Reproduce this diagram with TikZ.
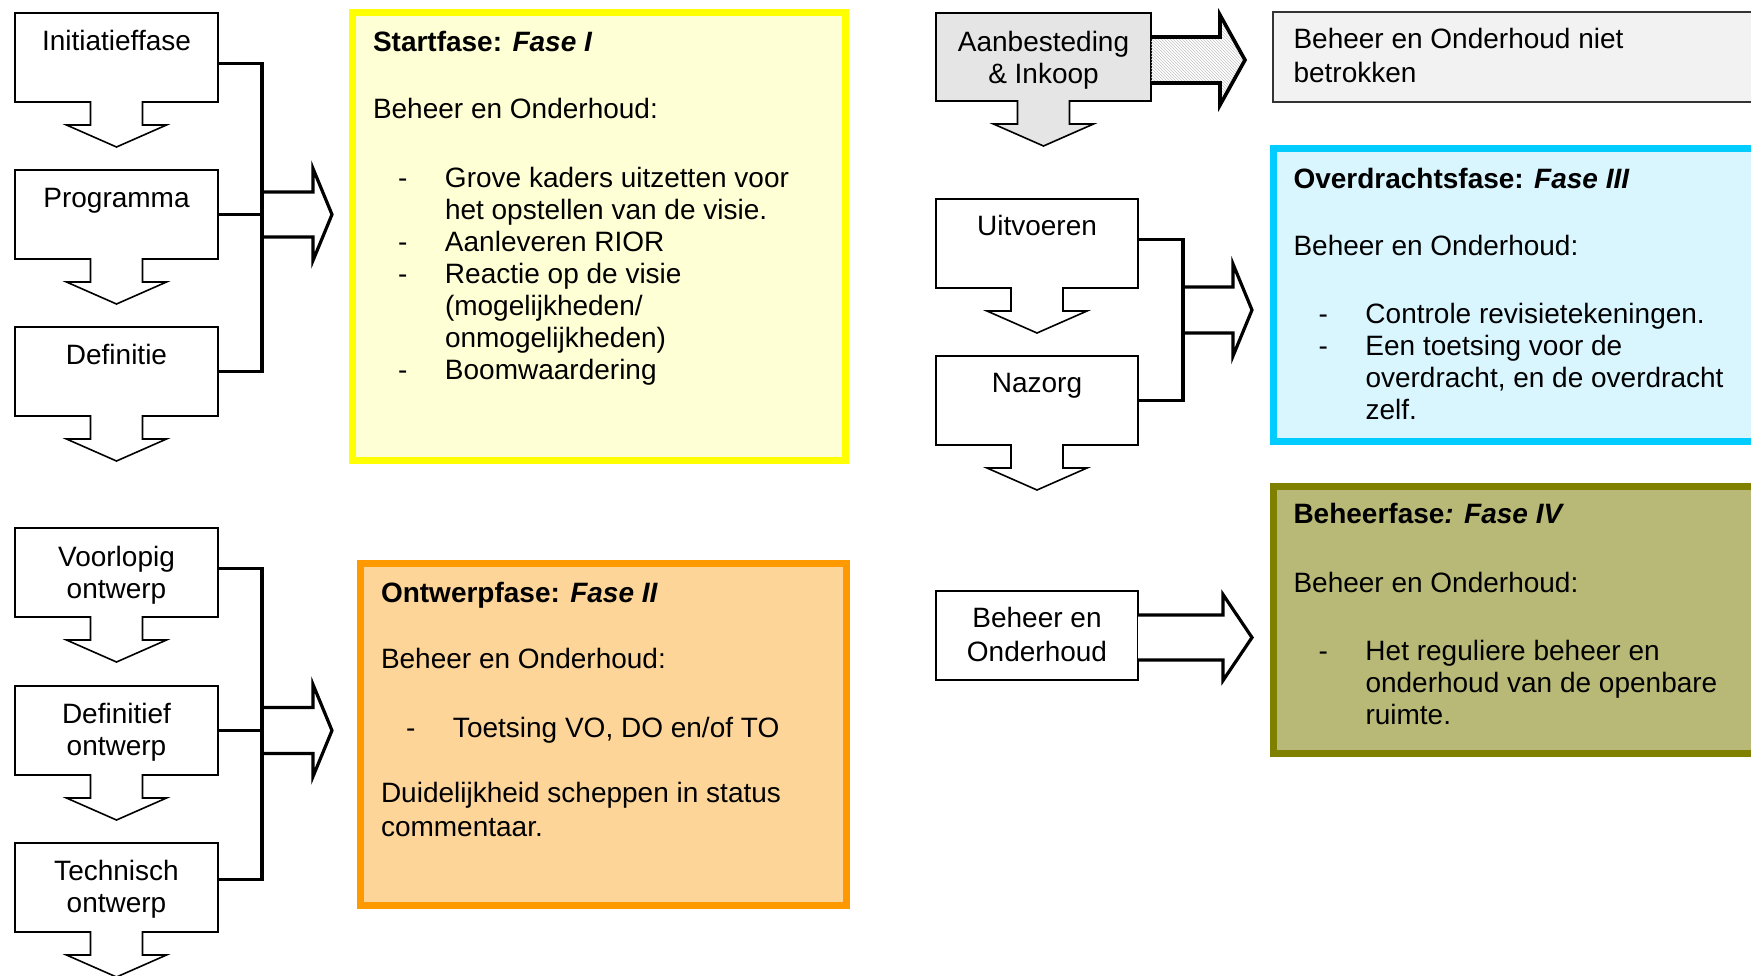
\documentclass[tikz,border=0pt]{standalone}
\usepackage{fontspec}
\setmainfont{Liberation Sans}
\usetikzlibrary{patterns}
\definecolor{yB}{HTML}{FFFF00}\definecolor{yF}{HTML}{FFFFD5}
\definecolor{oB}{HTML}{FF9900}\definecolor{oF}{HTML}{FDD598}
\definecolor{cB}{HTML}{00CCFF}\definecolor{cF}{HTML}{D9F6FF}
\definecolor{olB}{HTML}{808000}\definecolor{olF}{HTML}{B9B977}
\newcommand\bitem[1]{\hspace*{25pt}\makebox[47pt][l]{-}#1}
\newcommand\bcont[1]{\hspace*{72pt}#1}
\newcommand\dcallout[2]{%
  \draw[cbox, fill=#2] (#1.north west) -- (#1.north east) -- (#1.south east)
   -- ([xshift=26pt]#1.south) -- ([xshift=26pt,yshift=-23pt]#1.south)
   -- ([xshift=50pt,yshift=-23pt]#1.south) -- ([yshift=-45pt]#1.south)
   -- ([xshift=-50pt,yshift=-23pt]#1.south) -- ([xshift=-26pt,yshift=-23pt]#1.south)
   -- ([xshift=-26pt]#1.south) -- (#1.south west) -- cycle;}
% #1 style, #2 start, #3 shaft length, #4 head length, #5 shaft half width, #6 head half width
\newcommand\fatarrow[6]{%
  \draw[#1] (#2) ++(0,-#5) -- ++(#3,0) -- ++(0,#5-#6) -- ++(#4,#6)
   -- ++(-#4,#6) -- ++(0,#5-#6) -- ++(-#3,0);}
\begin{document}
\begin{tikzpicture}[x=1pt,y=-1pt,
  every node/.style={inner sep=0pt, outer sep=0pt},
  txt/.style={font=\fontsize{28}{32}\selectfont, align=center, anchor=north},
  ptxt/.style={font=\fontsize{28}{32}\selectfont, align=left, anchor=north west},
  cbox/.style={draw=black, line width=1.6pt},
  frame/.style={minimum height=89pt, anchor=north west},
  brk/.style={draw=black, line width=3.2pt},
  bigarrow/.style={draw=black, line width=3.2pt, fill=white, line join=miter},
  hatcharrow/.style={draw=black, line width=3.6pt, line join=miter,
    pattern=north west lines, pattern color=gray!45},
  phase/.style={line width=7pt, anchor=north west},
]
\clip (0,0) rectangle (1751,975);
\fill[white] (0,0) rectangle (1751,975);

% ---------- left column, top group ----------
\node[frame, minimum width=203pt] (init) at (15,13) {};
\dcallout{init}{white}
\node[txt] (init-t) at ([yshift=-14.6pt]init.north) {\strut Initiatieffase};
\node[frame, minimum width=203pt] (prog) at (15,170) {};
\dcallout{prog}{white}
\node[txt] (prog-t) at ([yshift=-14.6pt]prog.north) {\strut Programma};
\node[frame, minimum width=203pt] (def) at (15,327) {};
\dcallout{def}{white}
\node[txt] (def-t) at ([yshift=-14.6pt]def.north) {\strut Definitie};

\coordinate (b1) at (262,0);
\fatarrow{bigarrow}{b1 |- prog.east}{51}{19}{22.5}{46}
\draw[brk] ([yshift=-6pt]init.east) -| (b1 |- def.east) -- (def.east);
\draw[brk] (prog.east) -- (prog.east -| b1);

% ---------- left column, bottom group ----------
\node[frame, minimum width=203pt] (vo) at (15,528) {};
\dcallout{vo}{white}
\node[txt] (vo-t) at ([yshift=-15.6pt]vo.north) {\strut Voorlopig\\ontwerp};
\node[frame, minimum width=203pt] (do) at (15,686) {};
\dcallout{do}{white}
\node[txt] (do-t) at ([yshift=-14.6pt]do.north) {\strut Definitief\\ontwerp};
\node[frame, minimum width=203pt] (to) at (15,843) {};
\dcallout{to}{white}
\node[txt] (to-t) at ([yshift=-14.6pt]to.north) {\strut Technisch\\ontwerp};

\coordinate (b2) at (262,0);
\fatarrow{bigarrow}{b2 |- do.east}{51}{19}{23}{46}
\draw[brk] ([yshift=4pt]vo.east) -| ([yshift=8pt]b2 |- to.east) -- ([yshift=8pt]to.east);
\draw[brk] (do.east) -- (do.east -| b2);

% ---------- phase I ----------
\node[phase, draw=yB, fill=yF, minimum width=493pt, minimum height=448pt] (f1) at (352.5,12.5) {};
\node[ptxt] (f1-t) at (373,28.6) {\strut\textbf{Startfase: \textit{Fase I}}\\[35pt]
Beheer en Onderhoud:\\[37pt]
\bitem{Grove kaders uitzetten voor}\\
\bcont{het opstellen van de visie.}\\
\bitem{Aanleveren RIOR}\\
\bitem{Reactie op de visie}\\
\bcont{(mogelijkheden/}\\
\bcont{onmogelijkheden)}\\
\bitem{Boomwaardering}};

% ---------- phase II ----------
\node[phase, draw=oB, fill=oF, minimum width=486pt, minimum height=342pt] (f2) at (360.5,563.5) {};
\node[ptxt] (f2-t) at (381,579.6) {\strut\textbf{Ontwerpfase: \textit{Fase II}}\\[34pt]
Beheer en Onderhoud:\\[37pt]
\bitem{Toetsing VO, DO en/of TO}\\[33pt]
Duidelijkheid scheppen in status\\[2pt]
commentaar.};

% ---------- right column ----------
\node[frame, minimum width=215pt, minimum height=88pt] (aanb) at (936,13) {};
\dcallout{aanb}{gray!20}
\node[txt] (aanb-t) at ([yshift=-15.6pt]aanb.north) {\strut Aanbesteding\\\& Inkoop};
\fatarrow{hatcharrow}{[yshift=-3pt]aanb.east}{69}{25}{23}{45}

\node[draw=black!80, line width=1.5pt, fill=gray!10, minimum width=490pt, minimum height=90pt, anchor=north west] (niet) at (1273,12) {};
\node[ptxt] (niet-t) at (1293.5,26) {\strut Beheer en Onderhoud niet\\[2pt]betrokken};

\node[frame, minimum width=202pt] (uitv) at (936,199) {};
\dcallout{uitv}{white}
\node[txt] (uitv-t) at ([yshift=-13.6pt]uitv.north) {\strut Uitvoeren};
\node[frame, minimum width=202pt] (naz) at (936,356) {};
\dcallout{naz}{white}
\node[txt] (naz-t) at ([yshift=-13.6pt]naz.north) {\strut Nazorg};

\coordinate (b3) at (1183,310);
\fatarrow{bigarrow}{b3}{50}{19}{23}{46}
\draw[brk] ([yshift=4pt]uitv.east) -| (b3 |- naz.east) -- (naz.east);

\node[cbox, draw, fill=white, minimum width=202pt, minimum height=89pt, anchor=north west] (beh) at (936,591) {};
\node[txt] (beh-t) at ([yshift=-13.6pt]beh.north) {\strut Beheer en\\[2pt]Onderhoud};
\fatarrow{bigarrow}{[yshift=-2pt]beh.east}{85}{29}{22.5}{43}

% ---------- phase III ----------
\node[phase, draw=cB, fill=cF, minimum width=500pt, minimum height=293pt] (f3) at (1273.5,148.5) {};
\node[ptxt] (f3-t) at (1293.5,165.6) {\strut\textbf{Overdrachtsfase: \textit{Fase III}}\\[35pt]
Beheer en Onderhoud:\\[36pt]
\bitem{Controle revisietekeningen.}\\
\bitem{Een toetsing voor de}\\
\bcont{overdracht, en de overdracht}\\
\bcont{zelf.}};

% ---------- phase IV ----------
\node[phase, draw=olB, fill=olF, minimum width=500pt, minimum height=267pt] (f4) at (1273.5,486.5) {};
\node[ptxt] (f4-t) at (1293.5,500.6) {\strut\textbf{Beheerfase\textit{: Fase IV}}\\[37pt]
Beheer en Onderhoud:\\[36pt]
\bitem{Het reguliere beheer en}\\
\bcont{onderhoud van de openbare}\\
\bcont{ruimte.}};
\end{tikzpicture}
\end{document}
